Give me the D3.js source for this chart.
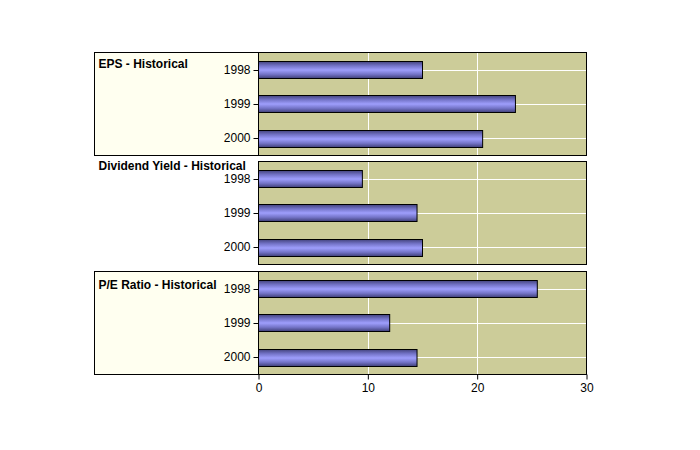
<!DOCTYPE html>
<html><head><meta charset="utf-8">
<script src="https://cdn.jsdelivr.net/npm/d3@7"></script>
<style>body{margin:0;background:#fff}svg{display:block}text{font-family:"Liberation Sans",Arial,sans-serif}</style>
</head><body><div id="chart"></div>
<script>
const categories = ["1998", "1999", "2000"];
const panelTitles = ["EPS - Historical", "Dividend Yield - Historical", "P/E Ratio - Historical"];
const epsValues = [15, 23.5, 20.5];
const dividendValues = [9.5, 14.5, 15];
const peValues = [25.5, 12, 14.5];
const xTicks = [0, 10, 20, 30];

const panels = [
  {title: panelTitles[0], values: epsValues, top: 52.5, box: true, titleDy: 15.5},
  {title: panelTitles[1], values: dividendValues, top: 161.5, box: false, titleDy: 8.5},
  {title: panelTitles[2], values: peValues, top: 271.5, box: true, titleDy: 17}
];
const W = 700, H = 450;
const outerLeft = 94.5, plotLeft = 258.5, plotRight = 586.5, panelH = 103;

const svg = d3.select("#chart").append("svg").attr("width", W).attr("height", H);
const defs = svg.append("defs");
const grad = defs.append("linearGradient").attr("id", "barGrad").attr("x1", 0).attr("y1", 0).attr("x2", 0).attr("y2", 1);
[[0, "#44447e"], [0.25, "#7474c8"], [0.5, "#9e9efc"], [0.75, "#7474c8"], [1, "#3e3e76"]]
  .forEach(([o, c]) => grad.append("stop").attr("offset", o).attr("stop-color", c));

const x = d3.scaleLinear().domain([0, 30]).range([plotLeft, plotRight]);

panels.forEach(p => {
  const g = svg.append("g");
  if (p.box) {
    g.append("rect").attr("x", outerLeft).attr("y", p.top).attr("width", plotRight - outerLeft).attr("height", panelH)
      .attr("fill", "#fffff0").attr("stroke", "#000").attr("stroke-width", 1);
  }
  g.append("rect").attr("x", plotLeft).attr("y", p.top).attr("width", plotRight - plotLeft).attr("height", panelH)
    .attr("fill", "#cccc99");
  const y = d3.scaleBand().domain(categories).range([p.top, p.top + panelH]).paddingInner(0.5).paddingOuter(0.25);
  // vertical grid
  g.selectAll(".vg").data(xTicks.slice(1, -1)).enter().append("line")
    .attr("x1", d => Math.round(x(d)) + 0.5).attr("x2", d => Math.round(x(d)) + 0.5)
    .attr("y1", p.top).attr("y2", p.top + panelH).attr("stroke", "#fff").attr("stroke-width", 1);
  // horizontal grid at category centers
  g.selectAll(".hg").data(categories).enter().append("line")
    .attr("x1", plotLeft).attr("x2", plotRight)
    .attr("y1", d => Math.round(y(d) + y.bandwidth() / 2) + 0.5).attr("y2", d => Math.round(y(d) + y.bandwidth() / 2) + 0.5)
    .attr("stroke", "#fff").attr("stroke-width", 1);
  // bars
  g.selectAll(".bar").data(categories).enter().append("rect")
    .attr("x", plotLeft).attr("y", d => Math.round(y(d)) + 0.5)
    .attr("width", (d, i) => x(p.values[i]) - plotLeft).attr("height", Math.round(y.bandwidth()))
    .attr("fill", "url(#barGrad)").attr("stroke", "#000").attr("stroke-width", 1);
  // border of plot
  g.append("rect").attr("x", plotLeft).attr("y", p.top).attr("width", plotRight - plotLeft).attr("height", panelH)
    .attr("fill", "none").attr("stroke", "#000").attr("stroke-width", 1);
  // y axis
  const ya = d3.axisLeft(y).tickSize(5).tickPadding(3);
  const yg = g.append("g").attr("transform", `translate(${plotLeft},0)`).call(ya);
  yg.select(".domain").remove();
  yg.selectAll(".tick line").attr("stroke", "#000");
  yg.selectAll(".tick").attr("transform", d => `translate(0,${Math.round(y(d) + y.bandwidth() / 2) + 0.5})`);
  yg.selectAll("text").attr("font-size", 12).attr("fill", "#000").style("font-family", "Liberation Sans, Arial, sans-serif");
  // title
  g.append("text").attr("x", 98.5).attr("y", p.top + p.titleDy).attr("font-size", 12).attr("font-weight", "bold")
    .attr("fill", "#000").text(p.title);
});

const last = panels[panels.length - 1];
const xa = d3.axisBottom(x).tickValues(xTicks).tickSize(5).tickPadding(4).tickFormat(d3.format("d"));
const xg = svg.append("g").attr("transform", `translate(0,${last.top + panelH})`).call(xa);
xg.select(".domain").remove();
xg.selectAll(".tick line").attr("stroke", "#000");
xg.selectAll("text").attr("font-size", 12).attr("fill", "#000").style("font-family", "Liberation Sans, Arial, sans-serif");
</script></body></html>
